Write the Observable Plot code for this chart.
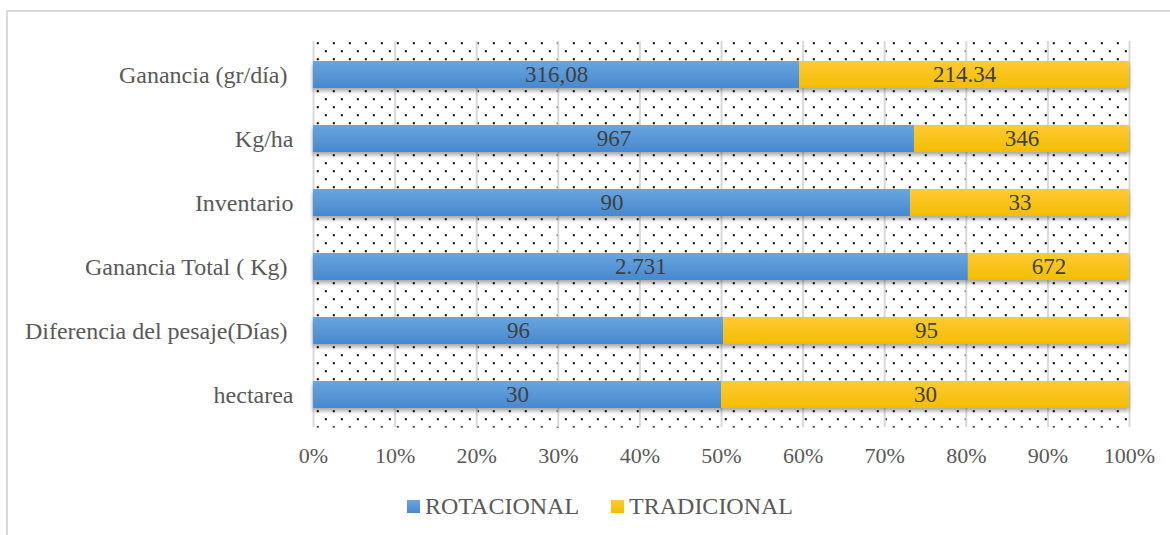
<!DOCTYPE html>
<html>
<head>
<meta charset="utf-8">
<script src="https://cdn.jsdelivr.net/npm/d3@7"></script>
<script src="https://cdn.jsdelivr.net/npm/@observablehq/plot@0.6"></script>
<style>
  html, body { margin: 0; padding: 0; background: #fff; overflow: hidden; }
  #wrap { position: relative; width: 1170px; height: 535px; font-family: "Liberation Serif", "Times New Roman", serif; }
  #border { position: absolute; left: 6px; top: 10px; width: 1200px; height: 600px; border: 2px solid #d9d9d9; box-sizing: border-box; pointer-events: none; }
  #chart { position: absolute; left: 0; top: 0; }
  #chart svg text { white-space: pre; }
  #legend { position: absolute; left: 15px; top: 491px; width: 1170px; display: flex; justify-content: center; gap: 32px;
            font-family: "Liberation Serif", "Times New Roman", serif; font-size: 24px; line-height: 30px; color: #595959; }
  #legend .item { display: flex; align-items: center; gap: 5px; }
  #legend .sw { width: 13px; height: 13px; }
</style>
</head>
<body>
<div id="wrap">
  <div id="chart"></div>
  <div id="legend"></div>
  <div id="border"></div>
</div>
<script>
// Categories, top to bottom
const categories = [
  "Ganancia (gr/día) ",
  "Kg/ha",
  "Inventario",
  "Ganancia Total ( Kg) ",
  "Diferencia del pesaje(Días) ",
  "hectarea"
];
const series = ["ROTACIONAL", "TRADICIONAL"];
const rotacional = [316.08, 967, 90, 2731, 96, 30];
const tradicional = [214.34, 346, 33, 672, 95, 30];
const rotacionalLabels = ["316,08", "967", "90", "2.731", "96", "30"];
const tradicionalLabels = ["214.34", "346", "33", "672", "95", "30"];
const xTicks = [0, 0.1, 0.2, 0.3, 0.4, 0.5, 0.6, 0.7, 0.8, 0.9, 1];

const gradientIds = ["gradRot", "gradTrad"];
const gradientStops = [["#69a6df", "#4788cf"], ["#ffca35", "#f3bd00"]];

// Long table: one row per category and series
const rows = [];
categories.forEach((c, i) => {
  rows.push({category: c, series: series[0], value: rotacional[i], label: rotacionalLabels[i]});
  rows.push({category: c, series: series[1], value: tradicional[i], label: tradicionalLabels[i]});
});

const stackOpts = {x: "value", y: "category", z: "series", offset: "normalize"};

const chart = Plot.plot({
  width: 1170,
  height: 480,
  marginLeft: 313,
  marginRight: 41,
  marginTop: 41,
  marginBottom: 53,
  style: {fontFamily: "'Liberation Serif', 'Times New Roman', serif", background: "transparent", overflow: "visible"},
  x: {domain: [0, 1], ticks: xTicks, tickFormat: d3.format(".0%"), tickSize: 0, tickPadding: 20, label: null},
  y: {domain: categories, paddingInner: 0.58, paddingOuter: 0.29, tickSize: 0, tickPadding: 20, label: null},
  color: {domain: series, range: gradientIds.map(id => `url(#${id})`)},
  marks: [
    Plot.frame({fill: "url(#dots)", stroke: null}),
    Plot.gridX(xTicks, {stroke: "#d9d9d9", strokeWidth: 2, strokeOpacity: 1}),
    Plot.barX(rows, Plot.stackX({...stackOpts, fill: "series"})),
    Plot.text(rows, Plot.stackX({...stackOpts, text: "label", fill: "#404040", fontSize: 23})),
    Plot.axisX({ticks: xTicks, tickFormat: d3.format(".0%"), tickSize: 0, tickPadding: 20, fontSize: 22, fill: "#595959", label: null}),
    Plot.axisY({tickSize: 0, tickPadding: 20, fontSize: 24, fill: "#595959", label: null})
  ]
});

// Pattern, gradients and shadow used by the marks above
const svgNS = "http://www.w3.org/2000/svg";
const defs = document.createElementNS(svgNS, "defs");
defs.innerHTML = `
  <pattern id="dots" patternUnits="userSpaceOnUse" x="316.3" y="41.7" width="16" height="16">
    <rect x="0" y="0" width="2" height="2" fill="#000"/>
    <rect x="8" y="8" width="2" height="2" fill="#000"/>
  </pattern>
  ${gradientIds.map((id, i) => `
  <linearGradient id="${id}" x1="0" y1="0" x2="0" y2="1">
    <stop offset="0" stop-color="${gradientStops[i][0]}"/>
    <stop offset="1" stop-color="${gradientStops[i][1]}"/>
  </linearGradient>`).join("")}
  <filter id="shadow" x="-5%" y="-30%" width="110%" height="190%">
    <feDropShadow dx="0" dy="3" stdDeviation="2" flood-color="#000" flood-opacity="0.35"/>
  </filter>`;
chart.insertBefore(defs, chart.firstChild);
d3.select(chart).selectAll('g[aria-label="bar"]').attr("filter", "url(#shadow)");

document.getElementById("chart").appendChild(chart);

// Legend below the plot
const legend = d3.select("#legend");
series.forEach((s, i) => {
  const item = legend.append("div").attr("class", "item");
  item.append("div").attr("class", "sw")
    .style("background", `linear-gradient(${gradientStops[i][0]}, ${gradientStops[i][1]})`);
  item.append("span").text(s);
});
</script>
</body>
</html>
